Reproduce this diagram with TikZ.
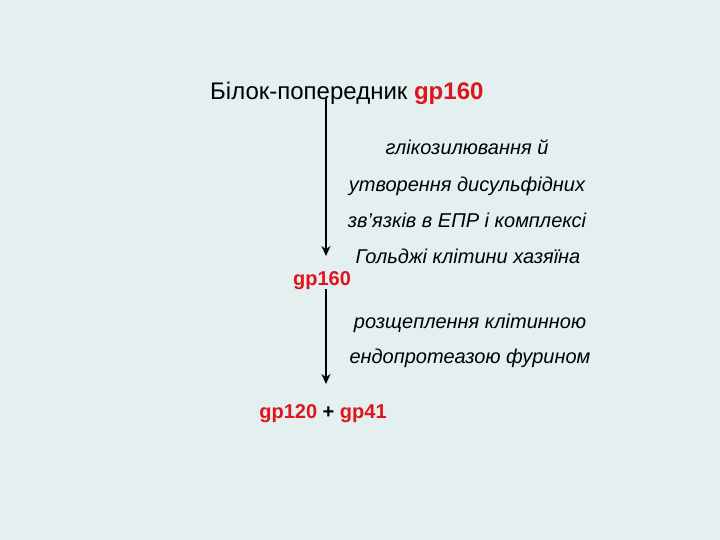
\documentclass[tikz,border=0pt]{standalone}
\usepackage{fontspec}
\setmainfont{Liberation Sans}
\usetikzlibrary{arrows.meta}
\definecolor{bg}{HTML}{E4EFEF}
\definecolor{gpred}{HTML}{E0141C}
\begin{document}
\begin{tikzpicture}[x=1pt,y=-1pt,
  lbl/.style={inner sep=0pt,anchor=base},
  gp/.style={lbl,text=gpred,font=\fontsize{20}{22}\selectfont\bfseries},
  note/.style={lbl,font=\fontsize{20}{23}\selectfont\itshape},
  arr/.style={-{Stealth[length=10pt,width=9pt]},line width=1.4pt}]
\fill[bg] (0,0) rectangle (720,540);
\useasboundingbox (0,0) rectangle (720,540);
\node[lbl,anchor=base west,font=\fontsize{24}{27}\selectfont] (title) at (210,100) {Білок-попередник \textcolor{gpred}{\bfseries gp160}};
\coordinate (a1) at (326,98);
\node[gp] (g160) at (322,285) {gp160};
\coordinate (a2) at (326,289);
\coordinate (a2e) at (326,384);
\coordinate (a1e) at (326,256);
\node[gp] (g120) at (323,418) {gp120 \textcolor{black}{+} gp41};
\draw[arr] (a1) -- (a1e);
\draw[arr] (a2) -- (a2e);
\node[note] (n1) at (467,155) {глікозилювання й};
\node[note] (n2) at (467,192) {утворення дисульфідних};
\node[note] (n3) at (467,227) {зв’язків в ЕПР і комплексі};
\node[note] (n4) at (468,263) {Гольджі клітини хазяїна};
\node[note] (n5) at (470,328) {розщеплення клітинною};
\node[note] (n6) at (470,363) {ендопротеазою фурином};
\end{tikzpicture}
\end{document}
